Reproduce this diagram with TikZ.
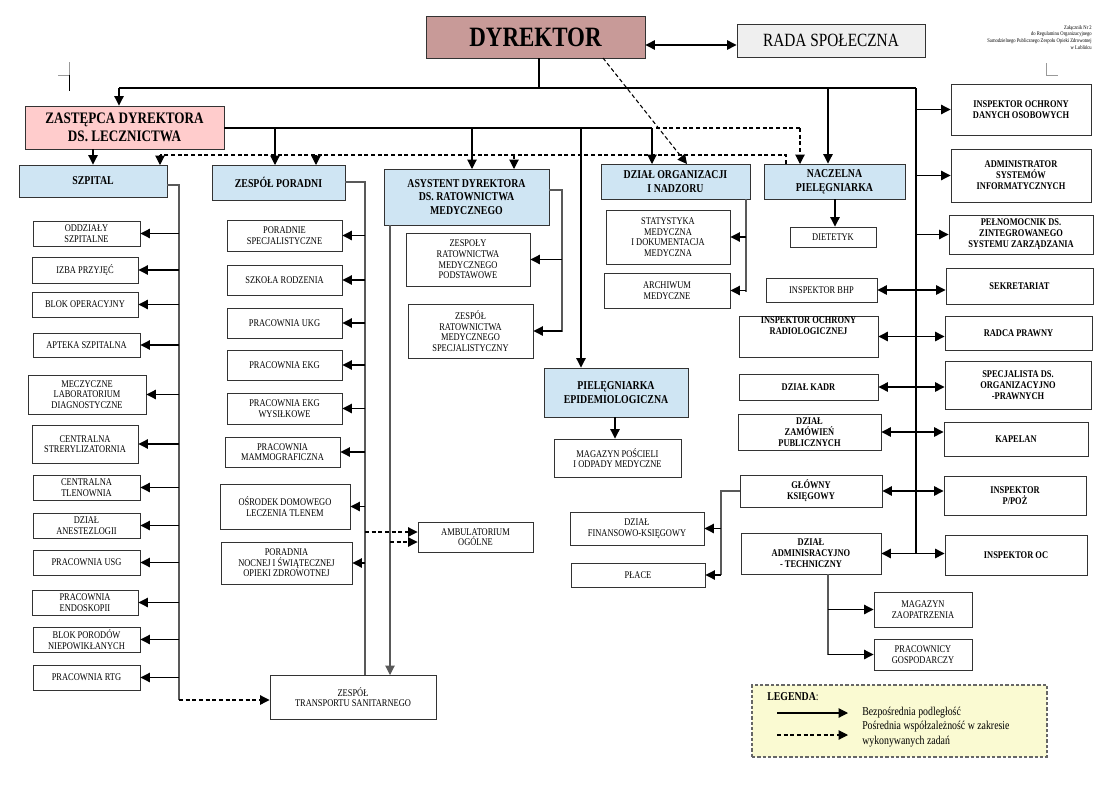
\documentclass[tikz,border=0pt]{standalone}
\usepackage{fontspec}
\setmainfont{Liberation Serif}
\newfontfamily\cnd{Liberation Serif}[FakeStretch=0.82]
\usetikzlibrary{arrows.meta}
\definecolor{hblue}{HTML}{CFE5F3}
\definecolor{dyrc}{HTML}{C89A98}
\definecolor{zasc}{HTML}{FFCCCC}
\definecolor{radc}{HTML}{EFEFEF}
\definecolor{legc}{HTML}{FAFAD2}
\newcommand\smf{\cnd\fontsize{7.7}{8}\selectfont}
\newcommand\bsmf{\cnd\bfseries\fontsize{7.7}{8.2}\selectfont}
\newcommand\hdf{\cnd\bfseries\fontsize{9}{10.2}\selectfont}
\newcommand\bx[7]{\node[#1, minimum width={(#5-#3)*0.75pt}, minimum height={(#6-#4)*0.75pt}] (#2) at ({(#3+#5)/2},{(#4+#6)/2}) {#7};}
\tikzset{
 box/.style={draw=black!80, line width=0.7pt, align=center, inner sep=0.5pt, font=\smf},
 bbox/.style={box, font=\bsmf},
 hb/.style={box, fill=hblue, font=\hdf},
 arr/.style={line width=0.8pt, -{Triangle[length=7pt,width=7pt]}},
 darr/.style={arr, dash pattern=on 3pt off 2pt},
 dl/.style={line width=0.8pt, dash pattern=on 3pt off 2pt},
 dbl/.style={line width=1pt, {Triangle[length=7pt,width=7pt]}-{Triangle[length=7pt,width=7pt]}},
 ln/.style={line width=0.8pt},
 gl/.style={line width=0.8pt, draw=black!65}
}
\begin{document}
\begin{tikzpicture}[x=0.75pt,y=-0.75pt]
\useasboundingbox (0,0) rectangle (1107,789);
% corner marks
\draw[black!40,line width=0.6pt] (58,75) -- (69,75) -- (69,62);
\draw[line width=0.6pt] (69,75) -- (69,91);
\draw[black!40,line width=0.6pt] (1046,63) -- (1046,75) -- (1058,75);
\node[align=right, anchor=north east, inner sep=0pt, font=\cnd\fontsize{4.2}{5}\selectfont] (note) at (1092,25) {Załącznik Nr 2\\do Regulaminu Organizacyjnego\\Samodzielnego Publicznego Zespołu Opieki Zdrowotnej\\w Lublińcu};
% top
\bx{box,fill=dyrc,font=\cnd\bfseries\fontsize{21}{22}\selectfont}{dyr}{426}{16}{645}{58}{DYREKTOR}
\bx{box,fill=radc,font=\cnd\fontsize{14}{15}\selectfont}{rada}{737}{24}{925}{57}{RADA SPOŁECZNA}
\bx{box,fill=zasc,font=\cnd\bfseries\fontsize{12}{13.5}\selectfont}{zas}{25}{106}{224}{149}{ZASTĘPCA DYREKTORA\\DS. LECZNICTWA}
% heads
\bx{hb}{szp}{19}{165}{167}{197}{SZPITAL}
\bx{hb}{zp}{212}{165}{345}{200}{ZESPÓŁ PORADNI}
\bx{hb}{asy}{384}{169}{549}{225}{ASYSTENT DYREKTORA\\DS. RATOWNICTWA\\MEDYCZNEGO}
\bx{hb}{org}{601}{164}{750}{199}{DZIAŁ ORGANIZACJI\\I NADZORU}
\bx{hb}{nac}{764}{164}{905}{199}{NACZELNA\\PIELĘGNIARKA}
\bx{hb}{epi}{544}{368}{688}{417}{PIELĘGNIARKA\\EPIDEMIOLOGICZNA}
% szpital children
\bx{box}{s1}{33}{221}{140}{246}{ODDZIAŁY\\SZPITALNE}
\bx{box}{s2}{32}{257}{138}{283}{IZBA PRZYJĘĆ}
\bx{box}{s3}{32}{292}{138}{317}{BLOK OPERACYJNY}
\bx{box}{s4}{33}{333}{140}{357}{APTEKA SZPITALNA}
\bx{box}{s5}{28}{375}{146}{414}{MECZYCZNE\\LABORATORIUM\\DIAGNOSTYCZNE}
\bx{box}{s6}{32}{425}{138}{463}{CENTRALNA\\STRERYLIZATORNIA}
\bx{box}{s7}{33}{475}{140}{500}{CENTRALNA\\TLENOWNIA}
\bx{box}{s8}{33}{513}{140}{538}{DZIAŁ\\ANESTEZLOGII}
\bx{box}{s9}{33}{550}{140}{575}{PRACOWNIA USG}
\bx{box}{s10}{32}{590}{138}{615}{PRACOWNIA\\ENDOSKOPII}
\bx{box}{s11}{33}{627}{140}{652}{BLOK PORODÓW\\NIEPOWIKŁANYCH}
\bx{box}{s12}{33}{665}{140}{690}{PRACOWNIA RTG}
% poradnie children
\bx{box}{p1}{227}{220}{342}{251}{PORADNIE\\SPECJALISTYCZNE}
\bx{box}{p2}{227}{265}{342}{295}{SZKOŁA RODZENIA}
\bx{box}{p3}{227}{308}{342}{338}{PRACOWNIA UKG}
\bx{box}{p4}{227}{350}{342}{380}{PRACOWNIA EKG}
\bx{box}{p5}{227}{393}{342}{424}{PRACOWNIA EKG\\WYSIŁKOWE}
\bx{box}{p6}{225}{437}{340}{467}{PRACOWNIA\\MAMMOGRAFICZNA}
\bx{box}{p7}{220}{484}{350}{529}{OŚRODEK DOMOWEGO\\LECZENIA TLENEM}
\bx{box}{p8}{221}{542}{352}{584}{PORADNIA\\NOCNEJ I ŚWIĄTECZNEJ\\OPIEKI ZDROWOTNEJ}
\bx{box}{amb}{418}{522}{533}{552}{AMBULATORIUM\\OGÓLNE}
\bx{box}{tr}{270}{675}{436}{719}{ZESPÓŁ\\TRANSPORTU SANITARNEGO}
% ratownictwo
\bx{box}{r1}{406}{233}{530}{286}{ZESPOŁY\\RATOWNICTWA\\MEDYCZNEGO\\PODSTAWOWE}
\bx{box}{r2}{408}{304}{533}{358}{ZESPÓŁ\\RATOWNICTWA\\MEDYCZNEGO\\SPECJALISTYCZNY}
% organizacja
\bx{box}{o1}{606}{210}{730}{264}{STATYSTYKA\\MEDYCZNA\\I DOKUMENTACJA\\MEDYCZNA}
\bx{box}{o2}{604}{273}{730}{308}{ARCHIWUM\\MEDYCZNE}
\bx{box}{mag}{554}{439}{681}{477}{MAGAZYN POŚCIELI\\I ODPADY MEDYCZNE}
% middle column
\bx{box}{die}{790}{227}{876}{247}{DIETETYK}
\bx{box}{bhp}{766}{278}{877}{302}{INSPEKTOR BHP}
\bx{bbox,align=center}{rad}{739}{316}{878}{357}{INSPEKTOR OCHRONY\\RADIOLOGICZNEJ\\[8pt]}
\bx{bbox}{kad}{739}{374}{878}{400}{DZIAŁ KADR}
\bx{bbox}{zam}{738}{414}{881}{450}{DZIAŁ\\ZAMÓWIEŃ\\PUBLICZNYCH}
\bx{bbox}{gk}{740}{475}{882}{507}{GŁÓWNY\\KSIĘGOWY}
\bx{bbox}{adm}{741}{533}{881}{574}{DZIAŁ\\ADMINISRACYJNO\\- TECHNICZNY}
\bx{box}{fin}{570}{512}{704}{545}{DZIAŁ\\FINANSOWO-KSIĘGOWY}
\bx{box}{pla}{571}{563}{705}{587}{PŁACE}
\bx{box}{mz}{874}{592}{972}{627}{MAGAZYN\\ZAOPATRZENIA}
\bx{box}{pg}{874}{639}{972}{670}{PRACOWNICY\\GOSPODARCZY}
% right column
\bx{bbox}{odo}{951}{84}{1091}{135}{INSPEKTOR OCHRONY\\DANYCH OSOBOWYCH}
\bx{bbox}{asi}{951}{149}{1091}{202}{ADMINISTRATOR\\SYSTEMÓW\\INFORMATYCZNYCH}
\bx{bbox}{pel}{949}{215}{1093}{254}{PEŁNOMOCNIK DS.\\ZINTEGROWANEGO\\SYSTEMU ZARZĄDZANIA}
\bx{bbox}{sek}{946}{268}{1093}{304}{SEKRETARIAT}
\bx{bbox}{rp}{945}{316}{1092}{350}{RADCA PRAWNY}
\bx{bbox}{spe}{945}{361}{1091}{409}{SPECJALISTA DS.\\ORGANIZACYJNO\\-PRAWNYCH}
\bx{bbox}{kap}{944}{422}{1088}{456}{KAPELAN}
\bx{bbox}{ppoz}{944}{476}{1086}{515}{INSPEKTOR\\P/POŻ}
\bx{bbox}{ioc}{945}{535}{1087}{575}{INSPEKTOR OC}
% legend
\node[draw=black!60, fill=legc, dash pattern=on 2.5pt off 1.5pt, line width=0.8pt, minimum width={295*0.75pt}, minimum height={72*0.75pt}] (leg) at (899.5,721) {};
\node[anchor=west, inner sep=0pt, font=\cnd\bfseries\fontsize{9}{10}\selectfont] (legt) at (767,697) {LEGENDA\textmd{:}};
\coordinate (la1) at (777,713); \coordinate (lb1) at (848,713);
\coordinate (la2) at (777,735); \coordinate (lb2) at (848,735);
\draw[arr] (la1) -- (lb1);
\draw[darr] (la2) -- (lb2);
\node[anchor=west, inner sep=0pt, align=left, font=\cnd\fontsize{9}{10.6}\selectfont] (legx) at (862,727) {Bezpośrednia podległość\\Pośrednia współzależność w zakresie\\wykonywanych zadań};
% ---- connectors
\coordinate (t1) at (119,88); \coordinate (t2) at (916,88);
\draw[dbl] (dyr.east |- 0,45) -- (rada.west |- 0,45);
\draw[ln] (dyr.south -| 539,0) -- (539,88);
\draw[ln] (t1) -- (t2);
\draw[arr] (t1) -- (zas.north -| t1);
\draw[arr] (828,88) -- (nac.north -| 828,0);
\coordinate (rb) at (916,0);
\draw[ln] (t2) -- (rb |- adm.east);
\foreach \n in {odo,asi,pel} \draw[arr] (rb |- \n.west) -- (\n.west);
\foreach \a/\b in {bhp/sek,rad/rp,kad/spe,zam/kap,gk/ppoz,adm/ioc} \draw[dbl] (\a.east) -- (\a.east -| \b.west);
\coordinate (d1) at (603,58);
\draw[darr] (d1) -- (687,164);
% zastepca
\coordinate (z2) at (652,128);
\draw[ln] (zas.east |- z2) -- (z2);
\draw[arr] (275,128) -- (275,165);
\draw[arr] (472,128) -- (472,169);
\draw[arr] (z2) -- (652,164);
\draw[arr] (581,128) -- (epi.north -| 581,0);
\draw[dl] (656,128) -- (800,128);
\draw[darr] (800,128) -- (800,164);
\draw[arr] (zas.south -| 93,0) -- (szp.north -| 93,0);
\draw[dl] (786,164) -- (786,155) -- (160,155);
\draw[darr] (160,155) -- (160,165);
\draw[darr] (316,155) -- (316,165);
\draw[darr] (514,155) -- (514,169);
% szpital bus
\coordinate (sb) at (179,0);
\draw[gl] (szp.east |- 0,185) -- (179,185) -- (179,700);
\foreach \n in {s1,s2,s3,s4,s5,s6,s7,s8,s9,s10,s11,s12} \draw[arr] (sb |- \n.east) -- (\n.east);
\draw[darr] (179,700) -- (tr.west |- 0,700);
% poradnie bus
\coordinate (pb) at (365,0);
\draw[gl] (zp.east |- 0,182) -- (365,182) -- (pb |- tr.north);
\foreach \n in {p1,p2,p3,p4,p5,p6,p7,p8} \draw[arr] (pb |- \n.east) -- (\n.east);
\draw[darr] (365,532) -- (amb.west |- 0,532);
% asystent
\draw[gl,-{Triangle[length=7pt,width=7pt]}] (390,225) -- (390,675);
\draw[darr] (390,542) -- (amb.west |- 0,542);
\coordinate (ab) at (562,0);
\draw[gl] (asy.east |- 0,190) -- (562,190) -- (562,332);
\draw[arr] (ab |- r1.east) -- (r1.east);
\draw[arr] (ab |- r2.east) -- (r2.east);
% organizacja
\coordinate (ob) at (746,0);
\draw[gl] (ob |- org.south) -- (746,292);
\draw[arr] (ob |- o1.east) -- (o1.east);
\draw[arr] (ob |- o2.east) -- (o2.east);
\draw[arr] (epi.south -| 615,0) -- (mag.north -| 615,0);
\draw[arr] (nac.south -| 835,0) -- (die.north -| 835,0);
% ksiegowy
\coordinate (kb) at (721,0);
\draw[gl] (gk.west) -- (kb |- gk.west) -- (721,575);
\draw[arr] (kb |- fin.east) -- (fin.east);
\draw[arr] (kb |- pla.east) -- (pla.east);
% administracja
\coordinate (mb) at (828,0);
\draw[gl] (mb |- adm.south) -- (mb |- pg.west);
\draw[arr] (mb |- mz.west) -- (mz.west);
\draw[arr] (mb |- pg.west) -- (pg.west);
\end{tikzpicture}
\end{document}
